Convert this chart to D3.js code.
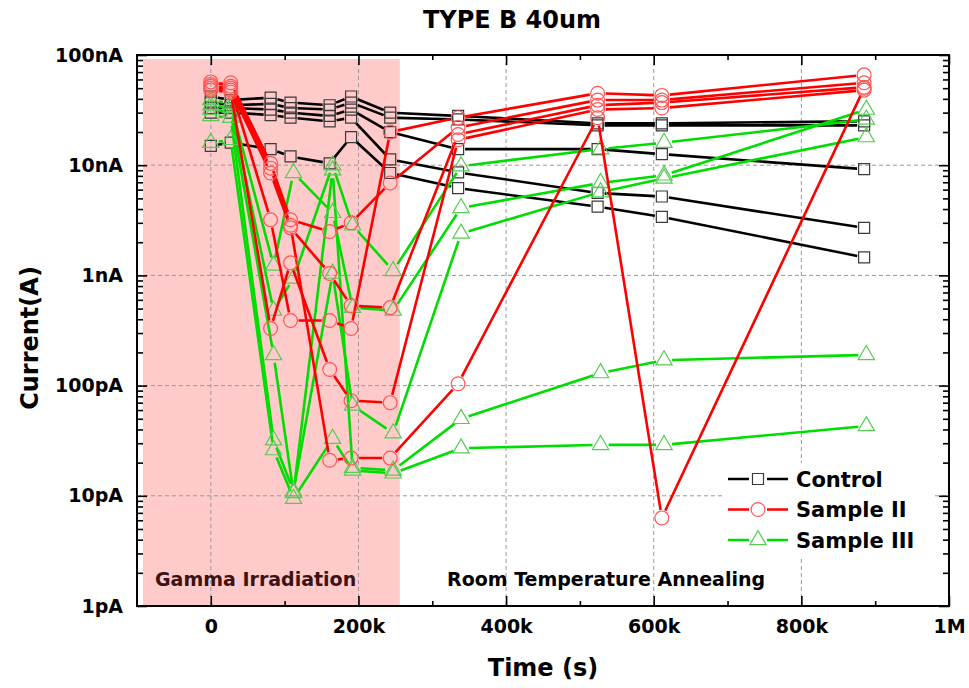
<!DOCTYPE html>
<html>
<head>
<meta charset="utf-8">
<script src="https://cdn.jsdelivr.net/npm/d3@7"></script>
<style>
  body { margin: 0; background: #fff; }
  text { font-family: "DejaVu Sans", sans-serif; font-weight: bold; }
</style>
</head>
<body>
<svg id="chart" width="969" height="688"></svg>
<script>
'use strict';

// measurement times (s)
const controlTime = [0, 27000, 81000, 108000, 161000, 190000, 243000, 335000, 524000, 611000, 885000];
const sample2Time = [0, 27000, 81000, 108000, 161000, 190000, 243000, 335000, 524000, 611000, 885000];
const sample3Time = [0, 27000, 85000, 112000, 165000, 192000, 247000, 339000, 528000, 614000, 888000];

// leakage current (A), one array per device
const control1 = [4.2e-8, 3.9e-8, 4.1e-8, 3.7e-8, 3.5e-8, 4.2e-8, 3.0e-8, 2.8e-8, 2.4e-8, 2.4e-8, 2.5e-8];
const control2 = [3.7e-8, 3.5e-8, 3.6e-8, 3.3e-8, 3.2e-8, 3.7e-8, 2.7e-8, 2.6e-8, 2.3e-8, 2.3e-8, 2.3e-8];
const control3 = [3.3e-8, 3.3e-8, 3.2e-8, 3.0e-8, 2.8e-8, 3.2e-8, 2.0e-8, 1.4e-8, 1.4e-8, 1.26e-8, 9.2e-9];
const control4 = [3.0e-8, 3.0e-8, 2.85e-8, 2.7e-8, 2.5e-8, 2.7e-8, 1.13e-8, 8.6e-9, 5.6e-9, 5.2e-9, 2.7e-9];
const control5 = [1.5e-8, 1.6e-8, 1.4e-8, 1.2e-8, 1.04e-8, 1.8e-8, 8.5e-9, 6.2e-9, 4.2e-9, 3.4e-9, 1.46e-9];

const sample2a = [5.4e-8, 5.6e-8, 1.04e-8, 3.2e-9, 2.5e-9, 3.0e-9, 6.9e-9, 2.2e-8, 3.9e-8, 3.9e-8, 5.6e-8];
const sample2b = [5.7e-8, 5.2e-8, 9.4e-9, 2.85e-9, 2.1e-11, 2.2e-11, 2.2e-11, 1.04e-10, 2.7e-8, 6.3e-12, 5.0e-8];
const sample2c = [5.0e-8, 4.8e-8, 8.5e-9, 2.7e-9, 1.04e-9, 5.3e-10, 5.1e-10, 1.9e-8, 3.5e-8, 3.7e-8, 5.1e-8];
const sample2d = [5.2e-8, 5.0e-8, 3.2e-9, 3.9e-10, 3.9e-10, 3.3e-10, 2.0e-8, 2.7e-8, 4.5e-8, 4.3e-8, 6.6e-8];
const sample2e = [4.8e-8, 4.6e-8, 3.3e-10, 1.3e-9, 1.4e-10, 7.3e-11, 7.0e-11, 1.7e-8, 3.2e-8, 3.3e-8, 4.8e-8];

const sample3a = [3.9e-8, 3.6e-8, 1.23e-9, 8.5e-9, 3.7e-9, 5.1e-10, 4.8e-10, 4.1e-9, 6.9e-9, 8.1e-9, 3.2e-8];
const sample3b = [3.5e-8, 3.3e-8, 4.8e-10, 9.4e-10, 1.0e-8, 2.85e-9, 1.1e-9, 9.8e-9, 1.4e-8, 1.6e-8, 2.6e-8];
const sample3c = [3.2e-8, 3.0e-8, 1.9e-10, 1.06e-11, 9.0e-9, 1.8e-11, 1.7e-11, 5.0e-11, 1.3e-10, 1.7e-10, 1.9e-10];
const sample3d = [2.8e-8, 2.7e-8, 3.2e-11, 1.1e-11, 1.04e-9, 6.6e-11, 3.7e-11, 2.4e-9, 5.7e-9, 7.6e-9, 1.8e-8];
const sample3e = [1.6e-8, 1.7e-8, 2.6e-11, 9.4e-12, 3.3e-11, 1.7e-11, 1.6e-11, 2.7e-11, 2.9e-11, 2.9e-11, 4.3e-11];

const irradiationPeriod = [-92000, 256000];

const xTickValues = [0, 200000, 400000, 600000, 800000, 1000000];
const xTickLabels = ['0', '200k', '400k', '600k', '800k', '1M'];
const yTickValues = [1e-12, 1e-11, 1e-10, 1e-9, 1e-8, 1e-7];
const yTickLabels = ['1pA', '10pA', '100pA', '1nA', '10nA', '100nA'];

const series = [
  { name: 'Control', time: controlTime, runs: [control1, control2, control3, control4, control5],
    line: '#000', mark: '#3a3a3a', symbol: d3.symbolSquare, size: 121, gap: 7 },
  { name: 'Sample III', time: sample3Time, runs: [sample3a, sample3b, sample3c, sample3d, sample3e],
    line: '#00dd00', mark: '#55cc55', symbol: d3.symbolTriangle, size: 115, gap: 8 },
  { name: 'Sample II', time: sample2Time, runs: [sample2a, sample2b, sample2c, sample2d, sample2e],
    line: '#ff0000', mark: '#ff5555', symbol: d3.symbolCircle, size: 150, gap: 8 }
];
const legendOrder = ['Control', 'Sample II', 'Sample III'];

const plot = { left: 137, right: 949, top: 55, bottom: 606 };

const svg = d3.select('#chart');

const x = d3.scaleLinear().domain([-100000, 1000000]).range([plot.left, plot.right]);
const y = d3.scaleLog().domain([1e-12, 1e-7]).range([plot.bottom, plot.top]);

// irradiation window
svg.append('rect')
    .attr('x', x(irradiationPeriod[0]))
    .attr('y', y(1e-7) + 4)
    .attr('width', x(irradiationPeriod[1]) - x(irradiationPeriod[0]))
    .attr('height', y(1e-12) - y(1e-7) - 4)
    .style('fill', '#ffcaca');

// dashed grid
const grid = svg.append('g')
    .style('stroke', '#999')
    .style('stroke-width', 1)
    .style('stroke-dasharray', '4,3');

grid.selectAll('.vgrid')
    .data(xTickValues.slice(0, -1))
  .enter().append('line')
    .attr('x1', d => x(d)).attr('x2', d => x(d))
    .attr('y1', plot.top).attr('y2', plot.bottom);

grid.selectAll('.hgrid')
    .data(yTickValues.slice(1, -1))
  .enter().append('line')
    .attr('x1', plot.left).attr('x2', plot.right)
    .attr('y1', d => y(d)).attr('y2', d => y(d));

svg.append('text')
    .attr('x', 155)
    .attr('y', 586)
    .style('font-size', '19px')
    .style('fill', '#3c1212')
    .text('Gamma Irradiation');

svg.append('text')
    .attr('x', 447)
    .attr('y', 586)
    .style('font-size', '19px')
    .style('fill', '#000')
    .text('Room Temperature Annealing');

// lines stop short of each hollow marker
function gappedPath(points, gap) {
  const p = d3.path();
  for (let i = 0; i < points.length - 1; i++) {
    const [x0, y0] = points[i];
    const [x1, y1] = points[i + 1];
    const len = Math.hypot(x1 - x0, y1 - y0);
    if (len <= 2 * gap) continue;
    const ux = (x1 - x0) / len, uy = (y1 - y0) / len;
    p.moveTo(x0 + ux * gap, y0 + uy * gap);
    p.lineTo(x1 - ux * gap, y1 - uy * gap);
  }
  return p.toString();
}

series.forEach(s => {
  const g = svg.append('g').attr('class', 'series');
  s.runs.forEach(run => {
    const pts = run.map((v, i) => [x(s.time[i]), y(v)]);
    g.append('path')
        .attr('d', gappedPath(pts, s.gap))
        .style('fill', 'none')
        .style('stroke', s.line)
        .style('stroke-width', 2.6);
  });
  s.runs.forEach(run => {
    g.selectAll(null)
        .data(run.map((v, i) => [s.time[i], v]))
      .enter().append('path')
        .attr('d', d3.symbol().type(s.symbol).size(s.size))
        .attr('transform', d => `translate(${x(d[0])},${y(d[1])})`)
        .style('fill', 'none')
        .style('stroke', s.mark)
        .style('stroke-width', 1.2);
  });
});

// axes with inward ticks
function styleAxis(g) {
  g.select('.domain').remove();
  g.selectAll('.tick line').style('stroke', '#000').style('stroke-width', 1.6);
  g.selectAll('.tick text')
      .style('font-family', '"DejaVu Sans", sans-serif')
      .style('font-weight', 'bold')
      .style('font-size', '19px')
      .style('fill', '#000');
}

const minorX = [100000, 300000, 500000, 700000, 900000];
const minorY = [];
yTickValues.slice(0, -1).forEach(d => {
  for (let k = 2; k <= 9; k++) minorY.push(d * k);
});

svg.append('g')
    .attr('transform', `translate(0,${plot.bottom})`)
    .call(d3.axisBottom(x).tickValues(xTickValues)
      .tickFormat((d, i) => xTickLabels[i]).tickSize(-10).tickPadding(14))
    .call(styleAxis);
svg.append('g')
    .attr('transform', `translate(0,${plot.bottom})`)
    .call(d3.axisBottom(x).tickValues(minorX).tickFormat('').tickSize(-5))
    .call(styleAxis);
svg.append('g')
    .attr('transform', `translate(0,${plot.top})`)
    .call(d3.axisTop(x).tickValues(xTickValues).tickFormat('').tickSize(-10))
    .call(styleAxis);
svg.append('g')
    .attr('transform', `translate(0,${plot.top})`)
    .call(d3.axisTop(x).tickValues(minorX).tickFormat('').tickSize(-5))
    .call(styleAxis);

svg.append('g')
    .attr('transform', `translate(${plot.left},0)`)
    .call(d3.axisLeft(y).tickValues(yTickValues)
      .tickFormat((d, i) => yTickLabels[i]).tickSize(-10).tickPadding(14))
    .call(styleAxis);
svg.append('g')
    .attr('transform', `translate(${plot.left},0)`)
    .call(d3.axisLeft(y).tickValues(minorY).tickFormat('').tickSize(-6))
    .call(styleAxis);
svg.append('g')
    .attr('transform', `translate(${plot.right},0)`)
    .call(d3.axisRight(y).tickValues(yTickValues).tickFormat('').tickSize(-10))
    .call(styleAxis);
svg.append('g')
    .attr('transform', `translate(${plot.right},0)`)
    .call(d3.axisRight(y).tickValues(minorY).tickFormat('').tickSize(-6))
    .call(styleAxis);

svg.append('rect')
    .attr('x', plot.left)
    .attr('y', plot.top)
    .attr('width', plot.right - plot.left)
    .attr('height', plot.bottom - plot.top)
    .style('fill', 'none')
    .style('stroke', '#000')
    .style('stroke-width', 2);

// legend
const legend = svg.append('g').attr('transform', 'translate(722,463)');
legend.append('rect')
    .attr('width', 211)
    .attr('height', 94)
    .style('fill', '#fff');

legendOrder.forEach((name, i) => {
  const s = series.find(d => d.name === name);
  const row = legend.append('g').attr('transform', `translate(0,${16 + i * 30.5})`);
  row.append('path')
      .attr('d', 'M6,0H27M45,0H66')
      .style('stroke', s.line)
      .style('stroke-width', 2.6);
  row.append('path')
      .attr('d', d3.symbol().type(s.symbol).size(s.size))
      .attr('transform', 'translate(36,0)')
      .style('fill', 'none')
      .style('stroke', s.mark)
      .style('stroke-width', 1.2);
  row.append('text')
      .attr('x', 74)
      .attr('dy', '0.36em')
      .style('font-size', '21px')
      .text(name);
});

svg.append('text')
    .attr('x', 512)
    .attr('y', 28)
    .attr('text-anchor', 'middle')
    .style('font-size', '24px')
    .text('TYPE B 40um');

svg.append('text')
    .attr('x', 543)
    .attr('y', 676)
    .attr('text-anchor', 'middle')
    .style('font-size', '24px')
    .text('Time (s)');

svg.append('text')
    .attr('transform', 'translate(38,338) rotate(-90)')
    .attr('text-anchor', 'middle')
    .style('font-size', '24px')
    .text('Current(A)');
</script>
</body>
</html>
